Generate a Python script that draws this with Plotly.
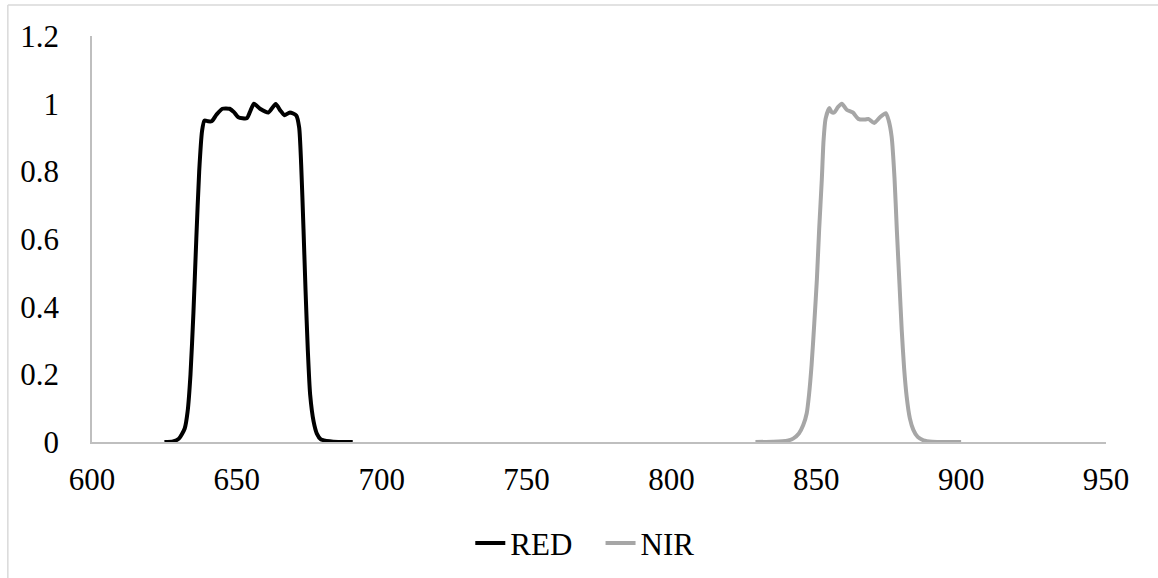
import plotly.graph_objects as go

# ---- data ----
red_wavelength = [625, 628, 630, 632, 633, 634, 635, 636, 637, 638, 638.8, 640, 641.3, 643, 645,
                  647.5, 649, 650.5, 653.4, 654.5, 655.9, 658, 660.9, 663.4, 665, 666.4, 668.3,
                  670.5, 671.5, 672.2, 673, 673.7, 674.5, 675.3, 676.5, 677.6, 679, 682, 685, 690]
red_response = [0, 0.002, 0.01, 0.04, 0.09, 0.2, 0.38, 0.6, 0.8, 0.92, 0.95, 0.948, 0.948, 0.968, 0.985,
                0.985, 0.975, 0.96, 0.957, 0.975, 1.0, 0.985, 0.974, 0.999, 0.98, 0.966, 0.974,
                0.965, 0.93, 0.82, 0.63, 0.45, 0.27, 0.14, 0.06, 0.025, 0.008, 0.002, 0, 0]

nir_wavelength = [829, 835, 840, 842, 844, 845.5, 846.7, 847.5, 848.4, 849.3, 850.2, 851, 851.9, 852.5,
                  853.2, 854.5, 855.3, 856.2, 857.5, 858.8, 860.5, 862.6, 864.5, 866.8, 868, 870,
                  872, 874, 875, 876, 877, 877.8, 878.7, 879.5, 880.3, 881.2, 882.3, 883.5, 885,
                  887, 890, 895, 900]
nir_response = [0, 0.001, 0.004, 0.01, 0.025, 0.05, 0.085, 0.14, 0.23, 0.35, 0.48, 0.63, 0.775, 0.89,
                0.955, 0.987, 0.975, 0.974, 0.99, 1.0, 0.982, 0.974, 0.955, 0.953, 0.955, 0.943,
                0.96, 0.972, 0.95, 0.903, 0.78, 0.627, 0.47, 0.33, 0.22, 0.134, 0.07, 0.036, 0.015,
                0.005, 0.001, 0, 0]

x_ticks = [600, 650, 700, 750, 800, 850, 900, 950]
y_ticks = [0, 0.2, 0.4, 0.6, 0.8, 1, 1.2]

FONT = "Liberation Serif"

fig = go.Figure()
fig.add_trace(go.Scatter(x=red_wavelength, y=red_response, name="RED   ", mode="lines",
                         line=dict(color="#000000", width=4, shape="spline", smoothing=0.6)))
fig.add_trace(go.Scatter(x=nir_wavelength, y=nir_response, name="NIR", mode="lines",
                         line=dict(color="#a6a6a6", width=4, shape="spline", smoothing=0.6)))

fig.update_layout(
    width=1158, height=578,
    margin=dict(l=92, r=52, t=36, b=136),
    paper_bgcolor="white", plot_bgcolor="white",
    font=dict(family=FONT, size=31, color="#000000"),
    showlegend=True,
    legend=dict(orientation="h", xref="container", yref="container",
                x=0.505, xanchor="center", y=0.06, yanchor="middle",
                font=dict(family=FONT, size=31), itemwidth=30, tracegroupgap=0),
    xaxis=dict(range=[600, 950], tickvals=x_ticks, showgrid=False, zeroline=False,
               showline=True, linecolor="#bfbfbf", linewidth=1.5, ticks="",
               ticklabelstandoff=9),
    yaxis=dict(range=[0, 1.2], tickvals=y_ticks, showgrid=False, zeroline=False,
               showline=True, linecolor="#bfbfbf", linewidth=1.5, ticks="",
               ticklabelstandoff=25),
    shapes=[
        dict(type="line", xref="paper", yref="paper", x0=-0.083, x1=-0.083, y0=-0.34, y1=1.0764,
             line=dict(color="#d9d9d9", width=1.5)),
        dict(type="line", xref="paper", yref="paper", x0=-0.083, x1=1.06, y0=1.0764, y1=1.0764,
             line=dict(color="#d9d9d9", width=1.5)),
    ],
)

fig.write_html("out.html")
